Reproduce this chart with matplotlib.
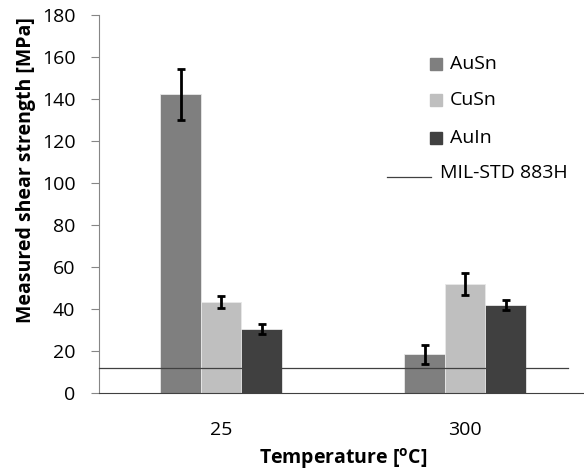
import numpy as np
import matplotlib.pyplot as plt
from matplotlib.patches import Rectangle
from matplotlib.lines import Line2D

plt.rcParams['font.family'] = ['Open Sans', 'DejaVu Sans']

# data
temps = ['25', '300']
alloys = ['AuSn', 'CuSn', 'AuIn']
strength = {
    'AuSn': [142.2, 18.4],
    'CuSn': [43.2, 51.9],
    'AuIn': [30.3, 42.0],
}
errors = {
    'AuSn': [12.0, 4.6],
    'CuSn': [2.8, 5.2],
    'AuIn': [2.4, 2.4],
}
mil_std = 11.8
colors = {'AuSn': '#7f7f7f', 'CuSn': '#bfbfbf', 'AuIn': '#404040'}

fig = plt.figure(figsize=(5.84, 4.70), dpi=100)
ax = fig.add_axes([0.1695, 0.1638, 0.836, 0.804])

x = np.arange(len(temps))
w = 0.166
for i, a in enumerate(alloys):
    ax.bar(x + (i - 1) * w, strength[a], w, color=colors[a],
           edgecolor='#e8e8e8', linewidth=0.6, zorder=2)
    ax.errorbar(x + (i - 1) * w, strength[a], yerr=errors[a], fmt='none',
                ecolor='black', elinewidth=2, capsize=3, capthick=2, zorder=3)

# MIL-STD line
ax.plot([-0.5, 1.42], [mil_std, mil_std], color='#404040', lw=0.9,
        zorder=4, clip_on=False)

ax.set_xlim(-0.5, 1.5)
ax.set_ylim(0, 180)
ax.set_yticks(np.arange(0, 181, 20))
ax.set_xticks(x)
ax.set_xticklabels(temps)

for s in ['top', 'right']:
    ax.spines[s].set_visible(False)
ax.spines['left'].set_color('#868686')
ax.spines['bottom'].set_color('#404040')
ax.tick_params(axis='y', length=6, color='#868686', pad=11, labelsize=14)
ax.tick_params(axis='x', length=0, pad=20, labelsize=14)

ax.set_ylabel('Measured shear strength [MPa]', fontsize=14, fontweight='bold')
ax.yaxis.set_label_coords(-0.13, 0.59)
ax.set_xlabel('Temperature [$\\mathregular{^o}$C]', fontsize=14,
              fontweight='bold')
ax.xaxis.set_label_coords(0.5, -0.14)

# legend (drawn by hand, Excel-style)
W, H = 584, 470
ys = [64, 100, 138]
for a, yy in zip(alloys, ys):
    fig.patches.append(Rectangle((430 / W, 1 - (yy + 6) / H), 12 / W, 12 / H,
                                 transform=fig.transFigure, color=colors[a]))
    fig.text(450 / W, 1 - yy / H, a, fontsize=14, va='center', ha='left')
fig.lines.append(Line2D([387 / W, 431 / W], [1 - 177 / H, 1 - 177 / H],
                        transform=fig.transFigure, color='#404040', lw=0.9))
fig.text(440 / W, 1 - 173 / H, 'MIL-STD 883H', fontsize=14,
         va='center', ha='left')

fig.savefig('out.png', dpi=100)
